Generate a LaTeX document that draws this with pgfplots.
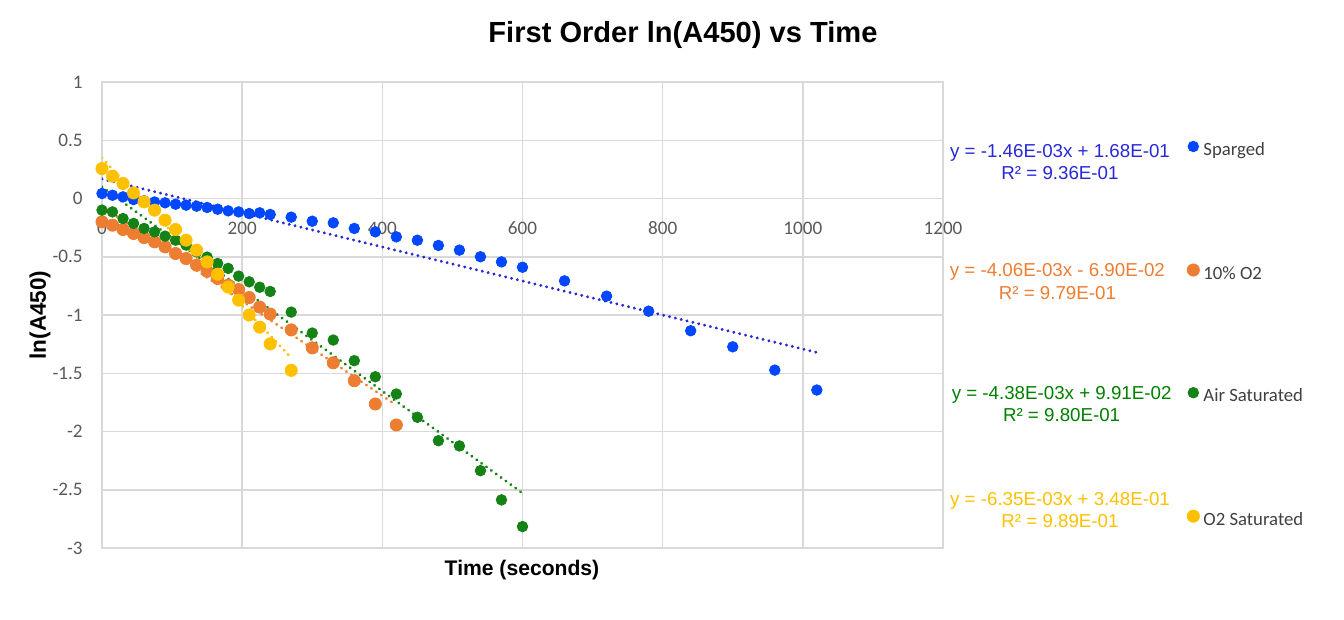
\documentclass[border=0pt]{standalone}
\usepackage{pgfplots}
\pgfplotsset{compat=1.18}
\usepackage{pgfplotstable}
\usepackage{fontspec}
\setmainfont{Liberation Sans}
\newfontfamily\carlito{Carlito}
\definecolor{cblue}{RGB}{0,72,255}
\definecolor{cbluetxt}{RGB}{40,40,215}
\definecolor{corange}{RGB}{237,125,49}
\definecolor{cgreen}{RGB}{20,130,20}
\definecolor{cgreentxt}{RGB}{0,128,0}
\definecolor{cyellow}{RGB}{255,192,0}
\definecolor{cgrid}{RGB}{217,217,217}
\definecolor{ctick}{RGB}{89,89,89}
\definecolor{clegend}{RGB}{64,64,64}

\pgfplotstableread{
t y
0 0.043
15 0.028
30 0.014
45 -0.009
60 -0.020
75 -0.030
90 -0.037
105 -0.049
120 -0.057
135 -0.066
150 -0.077
165 -0.092
180 -0.106
195 -0.115
210 -0.129
225 -0.123
240 -0.137
270 -0.160
300 -0.195
330 -0.209
360 -0.257
390 -0.286
420 -0.329
450 -0.358
480 -0.403
510 -0.443
540 -0.500
570 -0.544
600 -0.590
660 -0.707
720 -0.838
780 -0.967
840 -1.135
900 -1.273
960 -1.473
1020 -1.644
}\sparged

\pgfplotstableread{
t y
0 -0.200
15 -0.229
30 -0.266
45 -0.300
60 -0.335
75 -0.372
90 -0.415
105 -0.472
120 -0.515
135 -0.572
150 -0.625
165 -0.686
180 -0.744
195 -0.782
210 -0.850
225 -0.932
240 -0.992
270 -1.128
300 -1.282
330 -1.410
360 -1.564
390 -1.764
420 -1.944
}\tenpct

\pgfplotstableread{
t y
0 -0.100
15 -0.115
30 -0.172
45 -0.214
60 -0.257
75 -0.286
90 -0.323
105 -0.358
120 -0.400
135 -0.458
150 -0.503
165 -0.558
180 -0.600
195 -0.666
210 -0.715
225 -0.762
240 -0.798
270 -0.975
300 -1.155
330 -1.215
360 -1.392
390 -1.530
420 -1.678
450 -1.878
480 -2.079
510 -2.124
540 -2.336
570 -2.587
600 -2.816
}\airsat

\pgfplotstableread{
t y
0 0.257
15 0.191
30 0.129
45 0.048
60 -0.029
75 -0.100
90 -0.186
105 -0.266
120 -0.358
135 -0.443
150 -0.544
165 -0.650
180 -0.760
195 -0.872
210 -1.000
225 -1.104
240 -1.248
270 -1.475
}\otwosat

\begin{document}
\begin{tikzpicture}
\path[use as bounding box] (-51bp,-36bp) rectangle (621bp,274bp);
\begin{axis}[
  scale only axis,
  width=420.5bp, height=233bp,
  xmin=0, xmax=1200, ymin=-3, ymax=1,
  xtick={0,200,400,600,800,1000,1200},
  xticklabels={0,200,400,600,800,1000,1200},
  ytick={-3,-2.5,-2,-1.5,-1,-0.5,0,0.5,1},
  yticklabels={-3,-2.5,-2,-1.5,-1,-0.5,0,0.5,1},
  grid=major,
  grid style={draw=cgrid, line width=0.75bp},
  axis line style={draw=cgrid, line width=0.75bp},
  major tick length=0pt,
  tick style={draw=none},
  tick label style={font=\carlito\fontsize{9.6}{11.5}\selectfont, text=ctick},
  xticklabel style={anchor=center, inner sep=0pt, yshift=160bp},
  yticklabel style={anchor=east, inner sep=0pt, xshift=-9.5bp},
  title={First Order ln(A450) vs Time},
  title style={font=\bfseries\fontsize{14.6}{17}\selectfont, at={(axis description cs:0.6908,1.075)}, anchor=center},
  xlabel={Time (seconds)},
  xlabel style={font=\bfseries\fontsize{10.6}{13}\selectfont, at={(axis description cs:0.4994,-0.0472)}, anchor=center},
  ylabel={ln(A450)},
  ylabel style={font=\bfseries\fontsize{11.3}{13}\selectfont, at={(axis description cs:-0.0737,0.5)}, anchor=center},
  legend image code/.code={\draw[#1] plot coordinates {(0bp,2.6bp)};},
  legend cell align=left,
  legend style={draw=none, fill=none, at={(axis description cs:1.2899,0.4575)}, anchor=west,
    inner sep=0pt, row sep=52.6bp,
    font=\carlito\fontsize{9.4}{11}\selectfont, text=clegend,
    nodes={inner sep=0pt, text height=5.5bp, text depth=1.5bp},
    /tikz/every odd column/.append style={column sep=2bp}},
]
\addplot[only marks, mark=*, mark size=2.65bp, mark options={draw=cblue, fill=cblue}] table[x=t,y=y] {\sparged};
\addlegendentry{Sparged}
\addplot[only marks, mark=*, mark size=3.05bp, mark options={draw=corange, fill=corange}] table[x=t,y=y] {\tenpct};
\addlegendentry{10\% O2}
\addplot[only marks, mark=*, mark size=2.65bp, mark options={draw=cgreen, fill=cgreen}] table[x=t,y=y] {\airsat};
\addlegendentry{Air Saturated}
\addplot[only marks, mark=*, mark size=3.05bp, mark options={draw=cyellow, fill=cyellow}] table[x=t,y=y] {\otwosat};
\addlegendentry{O2 Saturated}
% linear trendlines (endpoints from the printed fit equations)
\addplot[forget plot, cbluetxt, line width=1.6bp, line cap=round, dash pattern=on 0.01bp off 3bp] coordinates {(0,0.168) (1020,-1.3212)};
\addplot[forget plot, corange, line width=1.6bp, line cap=round, dash pattern=on 0.01bp off 3bp] coordinates {(0,-0.069) (420,-1.7742)};
\addplot[forget plot, cgreen, line width=1.6bp, line cap=round, dash pattern=on 0.01bp off 3bp] coordinates {(0,0.0991) (600,-2.5289)};
\addplot[forget plot, cyellow, line width=1.6bp, line cap=round, dash pattern=on 0.01bp off 3bp] coordinates {(0,0.348) (270,-1.3665)};
\end{axis}
\begin{scope}[every node/.style={align=center, inner sep=0pt, font=\fontsize{9.4}{11.2}\selectfont}]
\node[text=cbluetxt] at (479bp,192.9bp) {y = -1.46E-03x + 1.68E-01\\R² = 9.36E-01};
\node[text=corange] at (477.7bp,133.2bp) {y = -4.06E-03x - 6.90E-02\\R² = 9.79E-01};
\node[text=cgreentxt] at (479.8bp,71.9bp) {y = -4.38E-03x + 9.91E-02\\R² = 9.80E-01};
\node[text=cyellow] at (479bp,19bp) {y = -6.35E-03x + 3.48E-01\\R² = 9.89E-01};
\end{scope}
\end{tikzpicture}
\end{document}
